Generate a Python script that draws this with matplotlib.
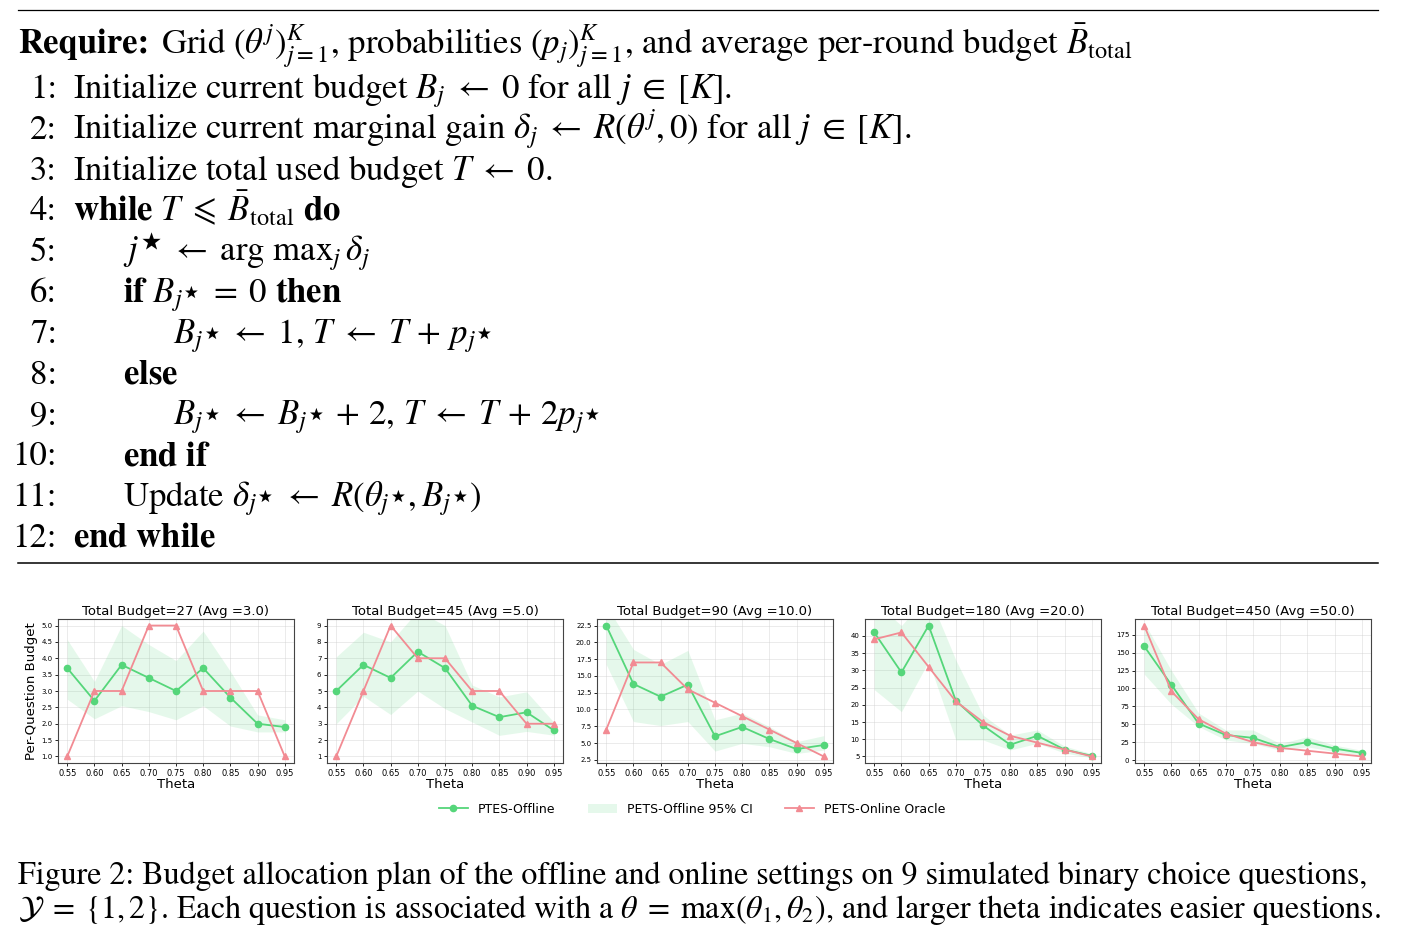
import numpy as np
import matplotlib
matplotlib.use("Agg")
import matplotlib.pyplot as plt
from matplotlib.ticker import MultipleLocator

plt.rcParams['mathtext.fontset'] = 'stix'

W, H = 1413, 946

# ---- data ----
theta = [0.55, 0.60, 0.65, 0.70, 0.75, 0.80, 0.85, 0.90, 0.95]
total_budget = [27, 45, 90, 180, 450]
avg_budget = [3.0, 5.0, 10.0, 20.0, 50.0]

off_27 = [3.7, 2.7, 3.8, 3.4, 3.0, 3.7, 2.8, 2.0, 1.9]
lo_27 = [2.75, 2.15, 2.55, 2.37, 2.12, 2.55, 1.93, 1.75, 1.75]
hi_27 = [4.57, 3.29, 5.0, 4.42, 3.93, 4.83, 3.6, 2.27, 2.12]
onl_27 = [1, 3, 3, 5, 5, 3, 3, 3, 1]

off_45 = [5.0, 6.6, 5.8, 7.4, 6.4, 4.1, 3.4, 3.7, 2.6]
lo_45 = [3.0, 4.68, 3.56, 5.0, 3.92, 3.1, 2.29, 2.53, 2.3]
hi_45 = [7.09, 8.59, 8.0, 9.9, 9.0, 5.36, 4.64, 4.95, 3.1]
onl_45 = [1, 5, 9, 7, 7, 5, 5, 3, 3]

off_90 = [22.5, 13.8, 11.9, 13.7, 6.0, 7.4, 5.6, 4.1, 4.7]
lo_90 = [16.7, 8.2, 7.6, 8.2, 3.8, 4.95, 4.45, 3.45, 3.95]
hi_90 = [25.5, 18.95, 16.7, 18.8, 8.45, 9.45, 7.45, 5.2, 6.1]
onl_90 = [7, 17, 17, 13, 11, 9, 7, 5, 3]

off_180 = [41, 29.4, 43, 21.2, 14, 8.4, 11, 7, 5.2]
lo_180 = [24.4, 18, 32.6, 9.8, 9.8, 6.9, 8.8, 6.0, 4.6]
hi_180 = [50, 43, 52, 33, 17, 11.2, 12.7, 8.0, 5.8]
onl_180 = [39, 41, 31, 21, 15, 11, 9, 7, 5]

off_450 = [159, 105, 51, 35, 31, 18, 25, 16, 10]
lo_450 = [120, 78, 46.8, 28, 23, 13.7, 18.4, 12, 6.6]
hi_450 = [192, 125, 65.7, 42, 42, 23, 32.6, 20.8, 13.7]
onl_450 = [188, 96, 57, 37, 25, 17, 13, 9, 5]

offline = [off_27, off_45, off_90, off_180, off_450]
ci_low = [lo_27, lo_45, lo_90, lo_180, lo_450]
ci_high = [hi_27, hi_45, hi_90, hi_180, hi_450]
online = [onl_27, onl_45, onl_90, onl_180, onl_450]
ystep = [0.5, 1, 2.5, 5, 25]

# ---- algorithm text ----
require_txt = (r"Grid $(\theta^j)_{j=1}^K$, probabilities $(p_j)_{j=1}^K$, "
               r"and average per-round budget $\bar{B}_{\mathrm{total}}$")
algo_lines = [
    (0, r"Initialize current budget $B_j \;\leftarrow\; 0$ for all $j \;\in\; [K]$."),
    (0, r"Initialize current marginal gain $\delta_j \;\leftarrow\; R(\theta^j, 0)$ for all $j \;\in\; [K]$."),
    (0, r"Initialize total used budget $T \;\leftarrow\; 0$."),
    (0, r"$\mathbf{while}$ $T \;\leqslant\; \bar{B}_{\mathrm{total}}$ $\mathbf{do}$"),
    (1, r"$j^\bigstar \;\leftarrow\; \arg\,\mathrm{max}_j\, \delta_j$"),
    (1, r"$\mathbf{if}$ $B_{j^\bigstar} \;=\; 0$ $\mathbf{then}$"),
    (2, r"$B_{j^\bigstar} \;\leftarrow\; 1,\, T \;\leftarrow\; T \,+\, p_{j^\bigstar}$"),
    (1, r"$\mathbf{else}$"),
    (2, r"$B_{j^\bigstar} \;\leftarrow\; B_{j^\bigstar} \,+\, 2,\, T \;\leftarrow\; T \,+\, 2p_{j^\bigstar}$"),
    (1, r"$\mathbf{end}$ $\mathbf{if}$"),
    (1, r"Update $\delta_{j^\bigstar} \;\leftarrow\; R(\theta_{j^\bigstar}, B_{j^\bigstar})$"),
    (0, r"$\mathbf{end}$ $\mathbf{while}$"),
]
caption1 = ("Figure 2: Budget allocation plan of the offline and online settings "
            "on 9 simulated binary choice questions,")
caption2 = (r"$\mathcal{Y} \;=\; \{1, 2\}$. Each question is associated with a "
            r"$\theta \;=\; \max(\theta_1, \theta_2)$, and larger theta indicates easier questions.")

fig = plt.figure(figsize=(W / 100, H / 100), dpi=100)
fig.patch.set_facecolor('white')


def ptxt(x, y, s, **kw):
    return fig.text(x / W, 1 - y / H, s, **kw)


def hline(y, x0, x1, lw):
    fig.add_artist(plt.Line2D([x0 / W, x1 / W], [1 - y / H, 1 - y / H],
                              color='black', lw=lw, transform=fig.transFigure))


serif = dict(family='STIXGeneral', fontsize=25, va='baseline')
hline(10, 18, 1378, 0.9)
hline(563, 18, 1378, 1.1)

renderer = fig.canvas.get_renderer()
req = ptxt(18, 53, "Require:", fontweight='bold', **serif)
rw = req.get_window_extent(renderer).width
ptxt(18 + rw + 12, 53, require_txt, **serif)

indent = [73, 123, 173]
for i, (lvl, s) in enumerate(algo_lines):
    yb = 98 + 40.8 * i
    ptxt(57, yb, f"{i + 1}:", ha='right', **serif)
    ptxt(indent[lvl], yb, s, **serif)

cap = dict(family='STIXGeneral', fontsize=23, va='baseline')
ptxt(18, 884, caption1, **cap)
ptxt(18, 918, caption2, **cap)

# ---- panels ----
green = '#55d67a'
red = '#f28b93'
lefts = [58, 327, 597, 865, 1135]
ax_w, ax_top, ax_bot = 236, 619, 763

for k in range(5):
    ax = fig.add_axes([lefts[k] / W, 1 - ax_bot / H, ax_w / W, (ax_bot - ax_top) / H])
    ax.fill_between(theta, ci_low[k], ci_high[k], color=green, alpha=0.15,
                    lw=0, label='PETS-Offline 95% CI')
    ax.plot(theta, offline[k], '-o', color=green, lw=1.3, ms=4.5,
            label='PTES-Offline', zorder=3)
    ax.plot(theta, online[k], '-^', color=red, lw=1.3, ms=4.5,
            label='PETS-Online Oracle', zorder=4)
    vals = offline[k] + online[k]
    lo, hi = min(vals), max(vals)
    pad = 0.05 * (hi - lo)
    ax.set_ylim(lo - pad, hi + pad)
    ax.set_xlim(0.533, 0.967)
    ax.set_xticks(theta)
    ax.yaxis.set_major_locator(MultipleLocator(ystep[k]))
    ax.grid(True, color='#d0d0d0', lw=0.5, alpha=0.6)
    ax.set_axisbelow(True)
    ax.tick_params(axis='x', labelsize=6, length=2.5, width=0.6, pad=1.5)
    ax.tick_params(axis='y', labelsize=5, length=2.5, width=0.6, pad=1.5)
    for sp in ax.spines.values():
        sp.set_color('#444444')
        sp.set_linewidth(0.8)
    ax.set_title(f"Total Budget={total_budget[k]} (Avg ={avg_budget[k]})",
                 fontsize=9.5, pad=3)
    ax.set_xlabel("Theta", fontsize=9.5, labelpad=0)
    if k == 0:
        ax.set_ylabel("Per-Question Budget", fontsize=9.5, labelpad=2)
        handles, labels = ax.get_legend_handles_labels()

order = [1, 0, 2]
fig.legend([handles[i] for i in order], [labels[i] for i in order],
           loc='center', bbox_to_anchor=(692 / W, 1 - 809 / H), ncol=3,
           frameon=False, fontsize=9, columnspacing=2.6, handlelength=2.3)

fig.savefig("out.png", dpi=100, facecolor='white')
